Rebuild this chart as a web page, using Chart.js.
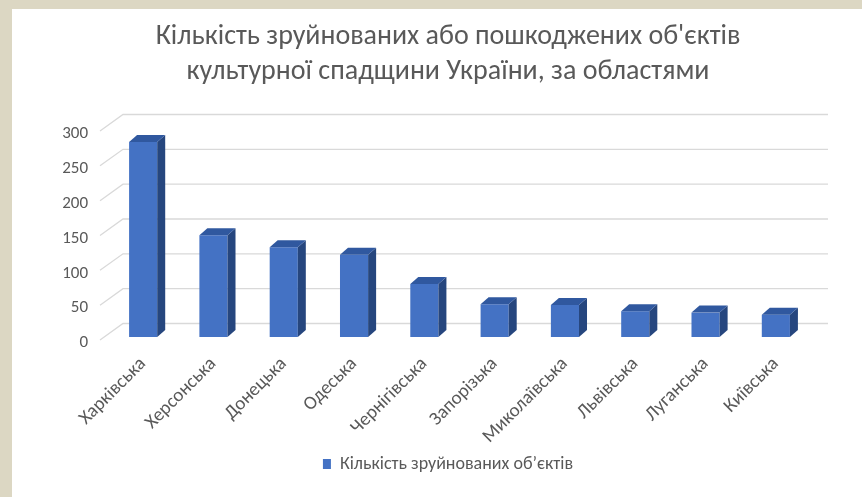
<!DOCTYPE html>
<html>
<head>
<meta charset="utf-8">
<script src="https://cdn.jsdelivr.net/npm/chart.js@4/dist/chart.umd.min.js"></script>
<style>
  html, body { margin: 0; padding: 0; background: #dcd7c3; width: 862px; height: 497px; overflow: hidden; }
  #wrap { position: absolute; left: 12px; top: 9px; width: 850px; height: 488px; background: #ffffff; }
</style>
</head>
<body>
<div id="wrap"><canvas id="c"></canvas></div>
<script>
const categories = ['Харківська', 'Херсонська', 'Донецька', 'Одеська', 'Чернігівська', 'Запорізька', 'Миколаївська', 'Львівська', 'Луганська', 'Київська'];
const destroyedObjects = [280, 146, 129, 118, 76, 47, 46, 37, 35, 32];
const seriesName = 'Кількість зруйнованих об\u2019єктів';
const titleLines = ['Кількість зруйнованих або пошкоджених об\'єктів', 'культурної спадщини України, за областями'];
const yTickMin = 0, yTickMax = 300, yTickStep = 50;

const FONT = "Carlito, Calibri, Lato, 'Open Sans', sans-serif";
const GRAY = '#595959';

const threeD = {
  id: 'threeD',
  beforeDatasetsDraw(chart) {
    const {ctx, chartArea, scales: {y}} = chart;
    ctx.save();
    ctx.strokeStyle = '#d9d9d9';
    ctx.lineWidth = 1.3;
    y.ticks.forEach(t => {
      const py = y.getPixelForValue(t.value);
      ctx.beginPath();
      ctx.moveTo(chartArea.left - 8, py + 3);
      ctx.lineTo(chartArea.left + 15, py - 13.5);
      ctx.lineTo(chartArea.right + 17, py - 13.5);
      ctx.stroke();
    });
    ctx.restore();
  },
  afterDatasetsDraw(chart) {
    const {ctx} = chart;
    const meta = chart.getDatasetMeta(0);
    const dx = 8, dy = -7;
    ctx.save();
    meta.data.forEach(bar => {
      const {x, y, base, width} = bar.getProps(['x', 'y', 'base', 'width'], true);
      const l = x - width / 2, r = x + width / 2;
      ctx.fillStyle = '#26467e';
      ctx.beginPath();
      ctx.moveTo(r, y); ctx.lineTo(r + dx, y + dy); ctx.lineTo(r + dx, base + dy); ctx.lineTo(r, base);
      ctx.closePath(); ctx.fill();
      ctx.fillStyle = '#30589f';
      ctx.beginPath();
      ctx.moveTo(l, y); ctx.lineTo(l + dx, y + dy); ctx.lineTo(r + dx, y + dy); ctx.lineTo(r, y);
      ctx.closePath(); ctx.fill();
    });
    ctx.restore();
  }
};

new Chart(document.getElementById('c'), {
  type: 'bar',
  data: {
    labels: categories,
    datasets: [{
      label: seriesName,
      data: destroyedObjects,
      backgroundColor: '#4472c4',
      borderWidth: 0,
      barPercentage: 0.4,
      categoryPercentage: 1.0,
      yAxisID: 'y'
    }]
  },
  options: {
    responsive: true,
    maintainAspectRatio: false,
    animation: false,
    layout: { padding: { left: 22, right: 0, top: 0, bottom: 14 } },
    plugins: {
      tooltip: { enabled: false },
      title: {
        display: true,
        text: titleLines,
        color: GRAY,
        font: { family: FONT, size: 28, weight: 'normal', lineHeight: 35 / 28 },
        padding: { top: 10.5, bottom: 38.5 }
      },
      legend: {
        position: 'bottom',
        labels: {
          color: GRAY,
          font: { family: FONT, size: 18 },
          boxWidth: 8,
          boxHeight: 10,
          padding: 10
        }
      }
    },
    scales: {
      x: {
        grid: { display: false, drawTicks: false },
        border: { display: false },
        afterFit(s) { s.height = 108; },
        ticks: {
          color: GRAY,
          font: { family: FONT, size: 19 },
          minRotation: 45,
          maxRotation: 45,
          padding: 16,
          autoSkip: false
        }
      },
      y: {
        min: yTickMin,
        max: yTickMax,
        grid: { display: false, drawTicks: false, tickLength: 0 },
        border: { display: false },
        afterFit(s) { s.width = 74; },
        ticks: {
          stepSize: yTickStep,
          color: GRAY,
          font: { family: FONT, size: 17 },
          padding: 20,
          labelOffset: 6
        }
      },
      yRight: {
        position: 'right',
        min: 0,
        max: 1,
        grid: { display: false, drawTicks: false },
        border: { display: false },
        ticks: { display: false },
        afterFit(s) { s.width = 51; }
      }
    }
  },
  plugins: [threeD]
});
</script>
</body>
</html>
